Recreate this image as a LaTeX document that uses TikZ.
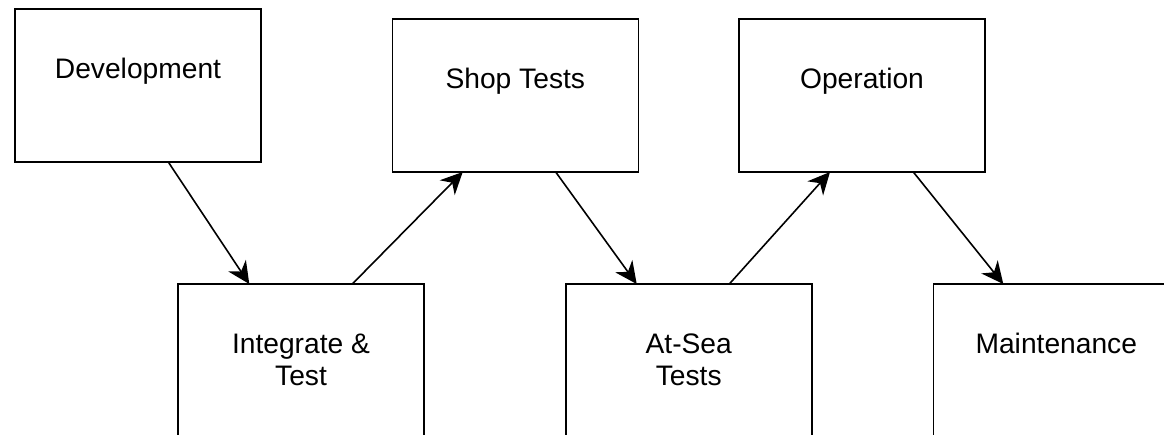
\documentclass[tikz,border=0pt]{standalone}
\usepackage{fontspec}
\setmainfont{Liberation Sans}
\usetikzlibrary{arrows.meta,calc}

\begin{document}
\begin{tikzpicture}[x=1pt,y=-1pt,
  stagebox/.style={draw=black, line width=1.6pt, outer sep=0pt, inner sep=0pt,
    rectangle, anchor=north west, minimum width=246pt, minimum height=153pt},
  openbox/.style={stagebox, minimum height=220pt},
  stagetext/.style={anchor=base, align=center, inner sep=0pt,
    font=\fontsize{28.2}{32}\selectfont},
  flow/.style={line width=1.6pt, -{Stealth[length=22pt, width=21pt, inset=7pt]}}]

  \clip (0,0) rectangle (1164,434);
  \fill[white] (0,0) rectangle (1164,434);

  % upper row
  \node[stagebox] (dev)  at (15,9)    {};
  \node[stagebox] (shop) at (392.3,19) {};
  \node[stagebox] (oper) at (739,19)  {};
  % lower row, running past the bottom edge
  \node[openbox] (integ) at (178,284)   {};
  \node[openbox] (atsea) at (565.7,284) {};
  \node[openbox] (maint) at (933.3,284) {};

  % stage names (base anchor sits on the last line)
  \node[stagetext] (devtxt)   at ([yshift=-69.5pt]dev.north)   {Development};
  \node[stagetext] (shoptxt)  at ([yshift=-69.5pt]shop.north)  {Shop Tests};
  \node[stagetext] (opertxt)  at ([yshift=-69.5pt]oper.north)  {Operation};
  \node[stagetext] (integtxt) at ([yshift=-101pt]integ.north) {Integrate \&\\Test};
  \node[stagetext] (atseatxt) at ([yshift=-101pt]atsea.north) {At-Sea\\Tests};
  \node[stagetext] (mainttxt) at ([yshift=-69pt]maint.north) {Maintenance};

  % flow between stages
  \draw[flow] ([xshift=153.3pt]dev.south west)  -- ([xshift=71.3pt]integ.north west);
  \draw[flow] ([xshift=174.3pt]integ.north west) -- ([xshift=70.4pt]shop.south west);
  \draw[flow] ([xshift=163.4pt]shop.south west) -- ([xshift=71pt]atsea.north west);
  \draw[flow] ([xshift=163.6pt]atsea.north west) -- ([xshift=91pt]oper.south west);
  \draw[flow] ([xshift=174.3pt]oper.south west) -- ([xshift=70pt]maint.north west);
\end{tikzpicture}
\end{document}
